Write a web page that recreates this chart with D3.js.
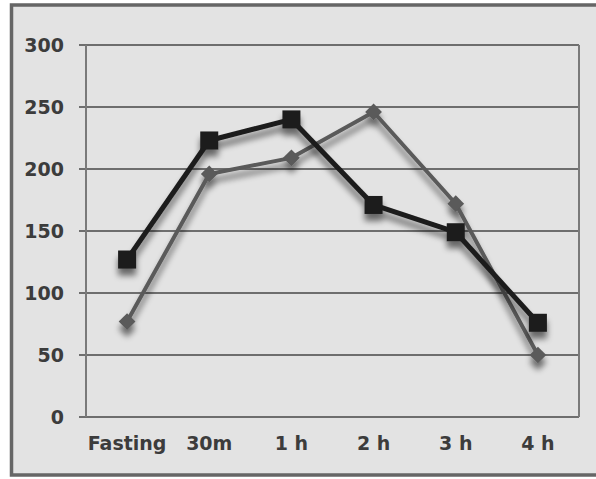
<!DOCTYPE html>
<html>
<head>
<meta charset="utf-8">
<script src="https://cdn.jsdelivr.net/npm/d3@7"></script>
<style>
  html, body { margin: 0; padding: 0; background: #ffffff; }
  svg { display: block; }
  text { font-family: "DejaVu Sans", "Open Sans", sans-serif; font-weight: 700; fill: #3c3c3c; }
</style>
</head>
<body>
<svg id="chart" width="596" height="479"></svg>
<script>
// Time points after the glucose load
const categories = ["Fasting", "30m", "1 h", "2 h", "3 h", "4 h"];
// Dark series (square markers)
const seriesSquare = [127, 223, 240, 171, 149, 76];
// Grey series (diamond markers)
const seriesDiamond = [77, 196, 209, 246, 172, 50];
// Y axis ticks
const yTicks = [0, 50, 100, 150, 200, 250, 300];

const svg = d3.select("#chart");
const W = 596, H = 479;
const plot = { left: 86, right: 579, top: 45, bottom: 417 };

// Outer panel (runs off the right edge)
svg.append("rect").attr("x", 0).attr("y", 0).attr("width", W).attr("height", H).attr("fill", "#ffffff");
svg.append("rect")
  .attr("x", 11.5).attr("y", 5).attr("width", 600).attr("height", 470)
  .attr("fill", "#e3e3e3").attr("stroke", "#666666").attr("stroke-width", 3.5);

const defs = svg.append("defs");
const f = defs.append("filter").attr("id", "shadow")
  .attr("x", "-20%").attr("y", "-20%").attr("width", "140%").attr("height", "160%");
f.append("feGaussianBlur").attr("in", "SourceAlpha").attr("stdDeviation", 3).attr("result", "b");
f.append("feOffset").attr("in", "b").attr("dx", 0).attr("dy", 7).attr("result", "o");
f.append("feComponentTransfer").attr("in", "o").attr("result", "s")
  .append("feFuncA").attr("type", "linear").attr("slope", 0.55);
const m = f.append("feMerge");
m.append("feMergeNode").attr("in", "s");
m.append("feMergeNode").attr("in", "SourceGraphic");

const x = d3.scalePoint().domain(categories).range([plot.left, plot.right]).padding(0.5);
const y = d3.scaleLinear().domain([0, 300]).range([plot.bottom, plot.top]);

// Gridlines with short outer ticks
const grid = svg.append("g");
grid.selectAll("line").data(yTicks).join("line")
  .attr("x1", plot.left - 7).attr("x2", plot.right)
  .attr("y1", d => y(d)).attr("y2", d => y(d))
  .attr("stroke", "#6e6e6e").attr("stroke-width", 2);
// Plot frame sides
svg.append("line").attr("x1", plot.left).attr("x2", plot.left)
  .attr("y1", plot.top).attr("y2", plot.bottom).attr("stroke", "#7a7a7a").attr("stroke-width", 2);
svg.append("line").attr("x1", plot.right).attr("x2", plot.right)
  .attr("y1", plot.top).attr("y2", plot.bottom).attr("stroke", "#7a7a7a").attr("stroke-width", 2);

// Y labels
svg.append("g").selectAll("text").data(yTicks).join("text")
  .attr("x", 64).attr("y", d => y(d)).attr("dy", "0.36em")
  .attr("text-anchor", "end").attr("font-size", 19).text(d => d);

// X labels
svg.append("g").selectAll("text").data(categories).join("text")
  .attr("x", d => x(d)).attr("y", 450)
  .attr("text-anchor", "middle").attr("font-size", 19).text(d => d);

const line = d3.line().x((d, i) => x(categories[i])).y(d => y(d));

// Grey diamond series
const g2 = svg.append("g").attr("filter", "url(#shadow)");
g2.append("path").datum(seriesDiamond).attr("d", line)
  .attr("fill", "none").attr("stroke", "#5a5a5a").attr("stroke-width", 4).attr("stroke-linejoin", "round");
g2.selectAll("path.mk").data(seriesDiamond).join("path").attr("class", "mk")
  .attr("d", d3.symbol().type(d3.symbolSquare).size(140))
  .attr("transform", (d, i) => `translate(${x(categories[i])},${y(d)}) rotate(45)`)
  .attr("fill", "#5a5a5a");

// Dark square series
const g1 = svg.append("g").attr("filter", "url(#shadow)");
g1.append("path").datum(seriesSquare).attr("d", line)
  .attr("fill", "none").attr("stroke", "#1c1c1c").attr("stroke-width", 5).attr("stroke-linejoin", "round");
g1.selectAll("rect.mk").data(seriesSquare).join("rect").attr("class", "mk")
  .attr("x", (d, i) => x(categories[i]) - 9).attr("y", d => y(d) - 9)
  .attr("width", 18).attr("height", 18).attr("fill", "#1c1c1c");
</script>
</body>
</html>
